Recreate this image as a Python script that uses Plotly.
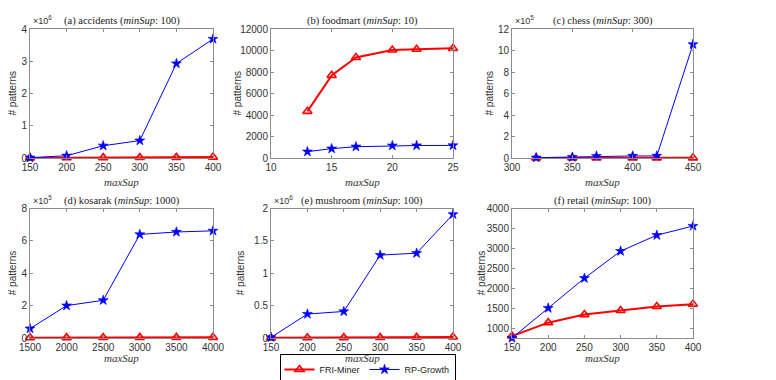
import plotly.graph_objects as go

# page body adds an 8px margin; figure sized to fit the 776x380 window
OFF = 8
W, H = 776 - OFF, 380 - OFF

# ---------------- data ----------------
acc_x = [150, 200, 250, 300, 350, 400]
acc_fri = [3000, 8000, 12000, 15000, 20000, 28000]
acc_rp = [10000, 70000, 380000, 540000, 2930000, 3690000]

food_x = [13, 15, 17, 20, 22, 25]
food_fri = [4340, 7690, 9350, 10050, 10120, 10200]
food_rp = [590, 870, 1050, 1150, 1160, 1170]

chess_x = [320, 350, 370, 400, 420, 450]
chess_fri = [500, 800, 1000, 1200, 1400, 1600]
chess_rp = [3000, 8000, 18000, 19000, 19000, 1057000]

kos_x = [1500, 2000, 2500, 3000, 3500, 4000]
kos_fri = [2000, 2500, 3000, 3500, 3800, 4000]
kos_rp = [58000, 200000, 233000, 640000, 655000, 662000]

mush_x = [150, 200, 250, 300, 350, 400]
mush_fri = [2000, 4000, 6000, 8000, 11000, 15000]
mush_rp = [10000, 370000, 410000, 1280000, 1310000, 1910000]

ret_x = [150, 200, 250, 300, 350, 400]
ret_fri = [800, 1135, 1337, 1440, 1540, 1600]
ret_rp = [750, 1500, 2250, 2930, 3330, 3560]

series_names = ["FRI-Miner", "RP-Growth"]

panels = [
    dict(title="(a) accidents (<i>minSup</i>: 100)", x=acc_x, fri=acc_fri, rp=acc_rp,
         xr=[150, 400], xt=[150, 200, 250, 300, 350, 400],
         yr=[0, 4e6], yt=[0, 1e6, 2e6, 3e6, 4e6], ytt=["0", "1", "2", "3", "4"], exp="6"),
    dict(title="(b) foodmart (<i>minSup</i>: 10)", x=food_x, fri=food_fri, rp=food_rp,
         xr=[10, 25], xt=[10, 15, 20, 25],
         yr=[0, 12000], yt=[0, 2000, 4000, 6000, 8000, 10000, 12000],
         ytt=["0", "2000", "4000", "6000", "8000", "10000", "12000"], exp=None),
    dict(title="(c) chess (<i>minSup</i>: 300)", x=chess_x, fri=chess_fri, rp=chess_rp,
         xr=[300, 450], xt=[300, 350, 400, 450],
         yr=[0, 12e5], yt=[0, 2e5, 4e5, 6e5, 8e5, 10e5, 12e5],
         ytt=["0", "2", "4", "6", "8", "10", "12"], exp="5"),
    dict(title="(d) kosarak (<i>minSup</i>: 1000)", x=kos_x, fri=kos_fri, rp=kos_rp,
         xr=[1500, 4000], xt=[1500, 2000, 2500, 3000, 3500, 4000],
         yr=[0, 8e5], yt=[0, 2e5, 4e5, 6e5, 8e5], ytt=["0", "2", "4", "6", "8"], exp="5"),
    dict(title="(e) mushroom (<i>minSup</i>: 100)", x=mush_x, fri=mush_fri, rp=mush_rp,
         xr=[150, 400], xt=[150, 200, 250, 300, 350, 400],
         yr=[0, 2e6], yt=[0, 0.5e6, 1e6, 1.5e6, 2e6], ytt=["0", "0.5", "1", "1.5", "2"], exp="6"),
    dict(title="(f) retail (<i>minSup</i>: 100)", x=ret_x, fri=ret_fri, rp=ret_rp,
         xr=[150, 400], xt=[150, 200, 250, 300, 350, 400],
         yr=[750, 4000], yt=[1000, 1500, 2000, 2500, 3000, 3500, 4000],
         ytt=["1000", "1500", "2000", "2500", "3000", "3500", "4000"], exp=None),
]

# ---------------- layout geometry (screen pixels of the reference) ----------------
col_px = [(30, 213), (271, 453), (512, 693)]
row_px = [(29, 158), (208.5, 338)]
ylab_px = [[12, 237, 489], [12, 240, 481]]
xlab_gap = [24, 20]


def fx(X):
    return (X - OFF) / W


def fy(Y):
    return 1 - (Y - OFF) / H


SANS = "Liberation Sans"
SERIF = "Liberation Serif"

fig = go.Figure()
layout = dict(
    width=W, height=H, margin=dict(l=0, r=0, t=0, b=0, autoexpand=False),
    paper_bgcolor="white", plot_bgcolor="white",
    showlegend=True,
    legend=dict(orientation="h", x=fx(367.5), y=-5 / H, xanchor="center", yanchor="bottom",
                bordercolor="black", borderwidth=1, bgcolor="white",
                font=dict(family=SANS, size=9, color="#222"),
                itemwidth=30, tracegroupgap=0, entrywidth=0),
)
annotations = []
axis_font = dict(family=SANS, size=10, color="#333")

for i, p in enumerate(panels):
    r, c = divmod(i, 3)
    idx = i + 1
    xa = "x" if idx == 1 else f"x{idx}"
    ya = "y" if idx == 1 else f"y{idx}"
    x0, x1 = col_px[c]
    yt_, yb_ = row_px[r]
    dom_x = [fx(x0), fx(x1)]
    dom_y = [fy(yb_), fy(yt_)]
    axcommon = dict(showline=True, linecolor="#8c8c8c", linewidth=1, mirror="ticks",
                    ticks="inside", ticklen=3, tickcolor="#8c8c8c", showgrid=False,
                    zeroline=False, tickfont=axis_font, automargin=False)
    layout["xaxis" if idx == 1 else f"xaxis{idx}"] = dict(
        domain=dom_x, anchor=ya, range=p["xr"], tickvals=p["xt"], **axcommon)
    layout["yaxis" if idx == 1 else f"yaxis{idx}"] = dict(
        domain=dom_y, anchor=xa, range=p["yr"], tickvals=p["yt"], ticktext=p["ytt"], **axcommon)

    fig.add_trace(go.Scatter(
        x=p["x"], y=p["fri"], xaxis=xa, yaxis=ya, mode="lines+markers",
        name=series_names[0], showlegend=(i == 0), legendgroup="fri",
        line=dict(color="#ff0000", width=2),
        marker=dict(symbol="triangle-up-open", size=8, color="#ff0000", line=dict(width=1.6)),
        cliponaxis=False))
    fig.add_trace(go.Scatter(
        x=p["x"], y=p["rp"], xaxis=xa, yaxis=ya, mode="lines+markers",
        name=series_names[1], showlegend=(i == 0), legendgroup="rp",
        line=dict(color="#0000ff", width=1),
        marker=dict(symbol="star", size=7.5, color="#0000ff", line=dict(width=0.6, color="#0000ff")),
        cliponaxis=False))

    # title
    annotations.append(dict(text=p["title"], x=fx((x0 + x1) / 2), y=fy(yt_ - 8),
                            xref="paper", yref="paper", showarrow=False,
                            xanchor="center", yanchor="middle",
                            font=dict(family=SERIF, size=10.5, color="#222")))
    # x label
    annotations.append(dict(text="<i>maxSup</i>", x=fx((x0 + x1) / 2), y=fy(yb_ + xlab_gap[r]),
                            xref="paper", yref="paper", showarrow=False,
                            xanchor="center", yanchor="middle",
                            font=dict(family=SERIF, size=11, color="#333")))
    # y label
    annotations.append(dict(text="# patterns", x=fx(ylab_px[r][c]), y=fy((yt_ + yb_) / 2),
                            xref="paper", yref="paper", showarrow=False, textangle=-90,
                            xanchor="center", yanchor="middle",
                            font=dict(family=SANS, size=10, color="#333")))
    # exponent
    if p["exp"]:
        annotations.append(dict(text="×10<sup>" + p["exp"] + "</sup>", x=fx(x0 + 1), y=fy(yt_ - 1),
                                xref="paper", yref="paper", showarrow=False,
                                xanchor="left", yanchor="bottom",
                                font=dict(family=SANS, size=9, color="#333")))

layout["annotations"] = annotations
fig.update_layout(**layout)
fig.write_html("out.html")
